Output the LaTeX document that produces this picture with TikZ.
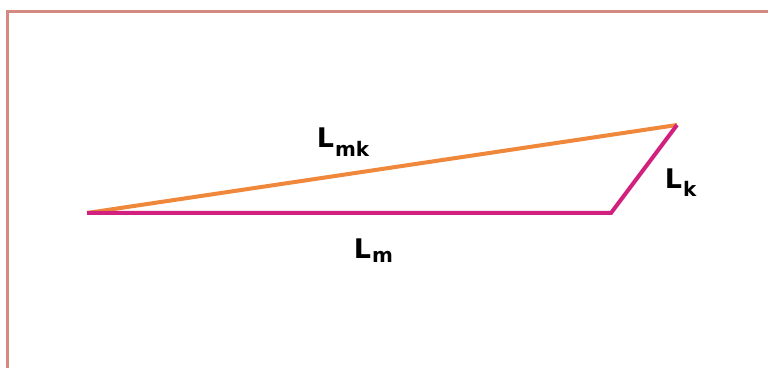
\documentclass[tikz,border=0pt]{standalone}
\usepackage{fontspec}
\setmainfont{DejaVu Sans}
\definecolor{frame}{HTML}{D58A80}
\definecolor{lorange}{HTML}{F0883C}
\definecolor{lmag}{HTML}{D2207F}
\begin{document}
\begin{tikzpicture}[x=1pt,y=1pt,
  seg/.style={line width=4pt},
  lab/.style={anchor=base west,inner sep=0pt,font=\fontsize{27}{27}\selectfont\bfseries}]
\useasboundingbox (0,0) rectangle (768,367);
\clip (0,0) rectangle (768,367);
\fill[white] (0,0) rectangle (768,367);
\draw[frame,line width=3.5pt] (7.5,-20) -- (7.5,355.5) -- (790,355.5);
\coordinate (A) at (87,154);
\coordinate (B) at (611,154);
\coordinate (C) at (677,242);
\draw[seg,lorange] (A) -- (C);
\draw[seg,lmag,line join=miter] (A) -- (B) -- (C);
\newcommand{\sublab}[2]{\hspace{1pt}\raisebox{-#1pt}{\fontsize{20}{20}\selectfont\bfseries #2}}
\node[lab] (lmk) at (316.6,219) {L\sublab{9}{mk}};
\node[lab] (lm) at (353.6,109) {L\sublab{5}{m}};
\node[lab] (lk) at (664.6,178) {L\sublab{8}{k}};
\end{tikzpicture}
\end{document}
